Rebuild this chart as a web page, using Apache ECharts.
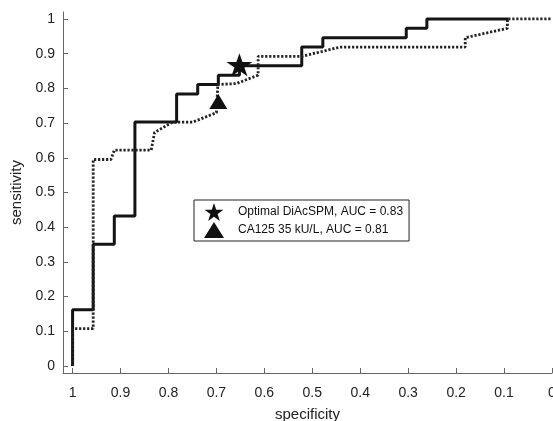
<!DOCTYPE html>
<html>
<head>
<meta charset="utf-8">
<script src="https://cdn.jsdelivr.net/npm/echarts@6/dist/echarts.min.js"></script>
<style>
html,body{margin:0;padding:0;background:#fff;}
#chart{width:553px;height:421px;}
</style>
</head>
<body>
<div id="chart"></div>
<script>
// Tick labels
const xTicks = [1, 0.9, 0.8, 0.7, 0.6, 0.5, 0.4, 0.3, 0.2, 0.1, 0];
const yTicks = [0, 0.1, 0.2, 0.3, 0.4, 0.5, 0.6, 0.7, 0.8, 0.9, 1];

// Optimal DiAcSPM ROC (specificity, sensitivity) – step curve
const diacSpec = [1, 1, 0.957, 0.913, 0.870, 0.783, 0.739, 0.696, 0.652, 0.522, 0.478, 0.304, 0.261, 0.091];
const diacSens = [0, 0.162, 0.351, 0.432, 0.703, 0.784, 0.811, 0.838, 0.865, 0.919, 0.946, 0.973, 1, 1];

// CA125 ROC (specificity, sensitivity) – polyline
const caSpec = [1, 1, 0.957, 0.957, 0.920, 0.913, 0.836, 0.829, 0.791, 0.749, 0.700, 0.697, 0.658, 0.613, 0.613, 0.522, 0.442, 0.181, 0.181, 0.093, 0.093, 0];
const caSens = [0, 0.108, 0.108, 0.595, 0.595, 0.622, 0.622, 0.673, 0.703, 0.703, 0.730, 0.811, 0.814, 0.838, 0.892, 0.892, 0.919, 0.919, 0.946, 0.973, 1, 1];

// Operating points
const starPoint = [0.652, 0.868];
const trianglePoint = [0.696, 0.762];

const legendNames = ['Optimal DiAcSPM, AUC = 0.83', 'CA125 35 kU/L, AUC = 0.81'];

const starPath = 'path://M50 0 L61.2 34.5 L97.6 34.5 L68.2 55.9 L79.4 90.5 L50 69.1 L20.6 90.5 L31.8 55.9 L2.4 34.5 L38.8 34.5 Z';
const triPath = 'path://M50 0 L100 80 L0 80 Z';

const zip = (a, b) => a.map((v, i) => [v, b[i]]);
const fmt = v => String(+(+v).toFixed(1));

const chart = echarts.init(document.getElementById('chart'), null, {renderer: 'canvas'});
const FONT = 'Liberation Sans, Arial, Helvetica, sans-serif';

chart.setOption({
  animation: false,
  backgroundColor: '#fff',
  textStyle: {fontFamily: FONT},
  grid: {left: 63, right: 1, top: 12, bottom: 48, containLabel: false, outerBoundsMode: 'none'},
  xAxis: {
    type: 'value', inverse: true, min: 0, max: 1.02,
    name: 'specificity', nameLocation: 'middle', nameGap: 34,
    nameTextStyle: {fontSize: 15, color: '#222', fontFamily: FONT},
    axisLine: {show: true, onZero: false, lineStyle: {color: '#666', width: 1}},
    axisTick: {show: true, inside: true, length: 5, customValues: xTicks, lineStyle: {color: '#666'}},
    axisLabel: {customValues: xTicks, formatter: fmt, fontSize: 14, color: '#222', margin: 13, fontFamily: FONT},
    splitLine: {show: false}
  },
  yAxis: {
    type: 'value', min: -0.02, max: 1.02,
    name: 'sensitivity', nameLocation: 'middle', nameGap: 36,
    nameTextStyle: {fontSize: 15, color: '#222', fontFamily: FONT},
    axisLine: {show: true, onZero: false, lineStyle: {color: '#666', width: 1}},
    axisTick: {show: true, inside: true, length: 5, customValues: yTicks, lineStyle: {color: '#666'}},
    axisLabel: {customValues: yTicks, formatter: fmt, fontSize: 14, color: '#222', margin: 8, fontFamily: FONT},
    splitLine: {show: false}
  },
  legend: {
    orient: 'vertical', left: 194, top: 200,
    data: [{name: legendNames[0], icon: starPath}, {name: legendNames[1], icon: triPath}],
    backgroundColor: '#fff', borderColor: '#222', borderWidth: 1, borderRadius: 0,
    padding: [3, 6, 3, 10], itemGap: 1, itemWidth: 20, itemHeight: 18,
    symbolKeepAspect: true,
    textStyle: {fontSize: 12, color: '#111', fontFamily: FONT, padding: [0, 0, 0, 9]},
    selectedMode: false
  },
  series: [
    {
      type: 'line', name: 'DiAcSPM ROC', step: 'end', showSymbol: false, symbol: 'none',
      data: zip(diacSpec, diacSens),
      lineStyle: {color: '#141414', width: 3}, z: 2
    },
    {
      type: 'line', name: 'CA125 ROC', showSymbol: false, symbol: 'none',
      data: zip(caSpec, caSens),
      lineStyle: {color: '#222', width: 2.8, type: [2.2, 1.8]}, z: 3
    },
    {
      type: 'scatter', name: legendNames[0], symbol: starPath, symbolSize: [26, 23],
      data: [starPoint], itemStyle: {color: '#111', opacity: 1}, z: 5
    },
    {
      type: 'scatter', name: legendNames[1], symbol: triPath, symbolSize: [18, 15],
      data: [trianglePoint], itemStyle: {color: '#111', opacity: 1}, z: 5
    }
  ]
});
</script>
</body>
</html>
